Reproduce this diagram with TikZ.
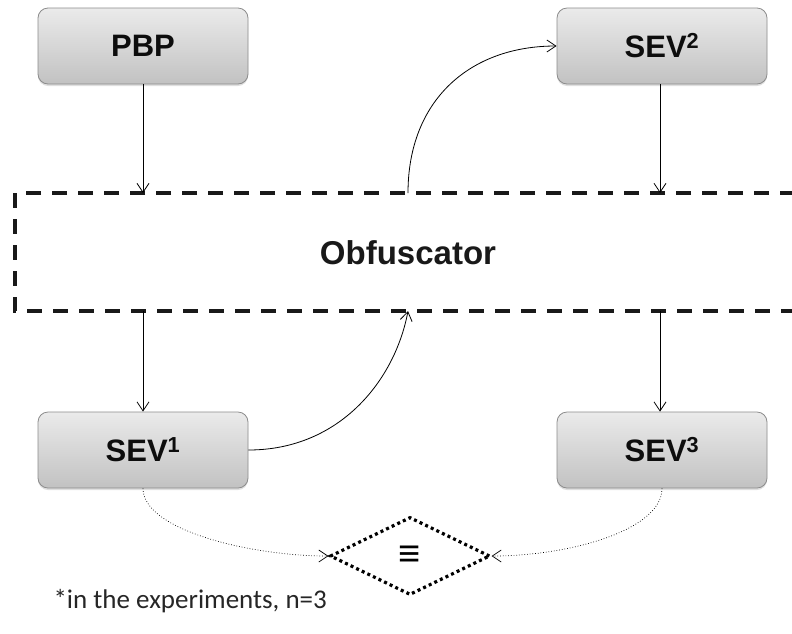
\documentclass[tikz,border=0pt]{standalone}
\usepackage{fontspec}
\setmainfont{Liberation Sans}
\newfontfamily\notefont{Carlito}
\usetikzlibrary{shapes.geometric,arrows.meta,shadows}
\begin{document}
\begin{tikzpicture}[x=1pt,y=-1pt,
  box/.style={rectangle,rounded corners=10pt,draw=black!45,line width=0.8pt,
    top color=black!8,bottom color=black!24,minimum width=210pt,minimum height=76pt,
    font=\fontsize{31}{34}\selectfont\bfseries,text=black!95,
    drop shadow={shadow xshift=0pt,shadow yshift=-2pt,opacity=0.25}},
  arr/.style={-{Straight Barb[length=9pt,width=12pt]},line width=0.8pt},
  dotarr/.style={-{Straight Barb[length=9pt,width=12pt]},line width=0.7pt,dotted}
]
\useasboundingbox (0,0) rectangle (792,633);
\node[box] (pbp) at (143,46) {PBP};
\node[box] (sev2) at (662,46) {SEV\textsuperscript{2}};
\node[box] (sev1) at (143,450) {SEV\textsuperscript{1}};
\node[box] (sev3) at (662,450) {SEV\textsuperscript{3}};
\draw[line width=3.5pt,dash pattern=on 15pt off 11pt,black!90] (795,193) -- (15,193) -- (15,311) -- (795,311);
\node[font=\fontsize{33}{36}\selectfont\bfseries,text=black!90] (obf) at (408,253) {Obfuscator};
\coordinate (obfTL) at (143,193);
\coordinate (obfTR) at (660,193);
\coordinate (obfBL) at (143,311);
\coordinate (obfBR) at (660,311);
\coordinate (obfTM) at (408,193);
\coordinate (obfBM) at (408,311);
\draw[arr] (pbp.south) -- (obfTL);
\draw[arr] (sev2.south -| obfTR) -- (obfTR);
\draw[arr] (obfBL) -- (sev1.north);
\draw[arr] (obfBR) -- (sev3.north -| obfBR);
\draw[arr] (obfTM) .. controls (408,100) and (470,46) .. (sev2.west);
\draw[arr] (sev1.east) .. controls (340,450) and (395,380) .. (obfBM);
\node[diamond,draw,line width=3.2pt,dash pattern=on 3pt off 3.2pt,minimum width=160pt,minimum height=78pt,inner sep=0pt,font=\fontsize{38}{40}\selectfont\bfseries] (eq) at (410,556) {≡};
\draw[dotarr] (sev1.south) .. controls (143,530) and (250,556) .. (eq.west);
\draw[dotarr] (sev3.south) .. controls (662,530) and (570,556) .. (eq.east);
\node[anchor=west,font=\notefont\fontsize{27}{30}\selectfont,text=black!85] (note) at (50,601) {*in the experiments, n=3};
\end{tikzpicture}
\end{document}
